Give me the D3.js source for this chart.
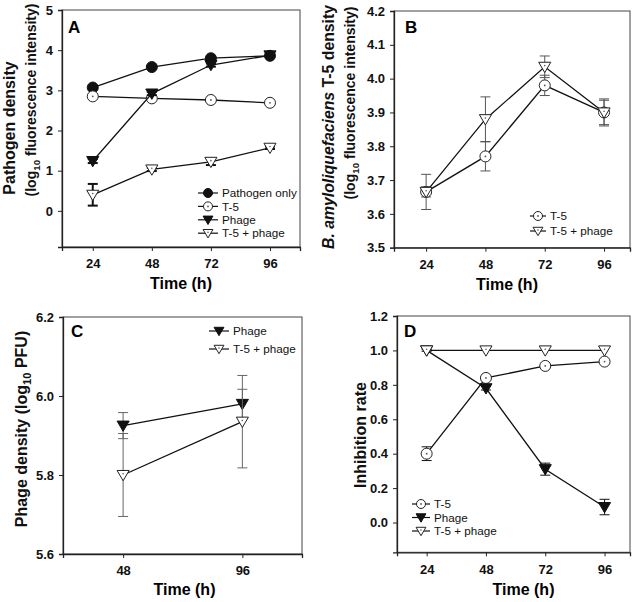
<!DOCTYPE html>
<html><head><meta charset="utf-8">
<script src="https://cdn.jsdelivr.net/npm/d3@7"></script>
<style>body{margin:0;background:#fff}svg{font-family:"Liberation Sans",Arial,sans-serif}</style>
</head><body><div id="c"></div>
<script>
// ---- Data ----
const timesA = [24, 48, 72, 96];
const aPathogen = [3.07, 3.58, 3.80, 3.86];
const aPathogenErr = [0.03, 0.03, 0.03, 0.03];
const aT5 = [2.85, 2.80, 2.76, 2.69];
const aT5Err = [0.02, 0.02, 0.02, 0.02];
const aPhage = [1.24, 2.92, 3.63, 3.87];
const aPhageErr = [0.05, 0.04, 0.04, 0.03];
const aT5Phage = [0.40, 1.03, 1.22, 1.57];
const aT5PhageErr = [0.27, 0.04, 0.08, 0.03];

const timesB = [24, 48, 72, 96];
const bT5 = [3.665, 3.77, 3.98, 3.90];
const bT5Err = [0.015, 0.043, 0.03, 0.04];
const bT5Phage = [3.665, 3.88, 4.035, 3.90];
const bT5PhageErr = [0.052, 0.066, 0.032, 0.036];

const timesC = [48, 96];
const cPhage = [5.925, 5.98];
const cPhageErr = [0.033, 0.037];
const cT5Phage = [5.80, 5.935];
const cT5PhageErr = [0.105, 0.117];

const timesD = [24, 48, 72, 96];
const dT5 = [0.40, 0.84, 0.91, 0.935];
const dT5Err = [0.04, 0.01, 0.01, 0.01];
const dPhage = [1.0, 0.78, 0.31, 0.09];
const dPhageErr = [0.005, 0.01, 0.035, 0.045];
const dT5Phage = [1.0, 1.0, 1.0, 1.0];
const dT5PhageErr = [0, 0, 0, 0];

const ticksA = [0, 1, 2, 3, 4, 5];
const ticksB = [3.5, 3.6, 3.7, 3.8, 3.9, 4.0, 4.1, 4.2];
const ticksC = [5.6, 5.8, 6.0, 6.2];
const ticksD = [0.0, 0.2, 0.4, 0.6, 0.8, 1.0, 1.2];

const svg = d3.select("#c").append("svg").attr("width", 635).attr("height", 602);

function panel(cfg) {
  const x = d3.scaleLinear().domain(cfg.xd).range([cfg.l, cfg.r]);
  const y = d3.scaleLinear().domain(cfg.yd).range([cfg.b, cfg.t]);
  const g = svg.append("g");
  g.append("rect").attr("x", cfg.l).attr("y", cfg.t).attr("width", cfg.r - cfg.l).attr("height", cfg.b - cfg.t)
    .attr("fill", "none").attr("stroke", "#444").attr("stroke-width", 1);
  const ya = g.append("g").attr("transform", `translate(${cfg.l},0)`)
    .call(d3.axisLeft(y).tickValues(cfg.yt).tickFormat(cfg.yf).tickSize(4).tickPadding(5));
  const xa = g.append("g").attr("transform", `translate(0,${cfg.b})`)
    .call(d3.axisBottom(x).tickValues(cfg.xt).tickFormat(d3.format("d")).tickSize(4).tickPadding(8));
  [ya, xa].forEach(a => {
    a.select(".domain").attr("stroke", "#222").attr("stroke-width", 1.3);
    a.selectAll("line").attr("stroke", "#222");
    a.selectAll("text").attr("font-size", 13).attr("font-weight", "bold").attr("fill", "#111")
      .attr("font-family", "Liberation Sans, Arial, sans-serif");
  });
  cfg.series.forEach(s => {
    const pts = cfg.xs.map((t, i) => ({ t, v: s.v[i], e: s.e[i] }));
    const eg = g.append("g").attr("stroke", cfg.errColor).attr("stroke-width", cfg.errW);
    pts.forEach(p => {
      if (!p.e) return;
      const cx = x(p.t), y1 = y(p.v + p.e), y0 = y(p.v - p.e);
      eg.append("line").attr("x1", cx).attr("x2", cx).attr("y1", y1).attr("y2", y0);
      eg.append("line").attr("x1", cx - 5).attr("x2", cx + 5).attr("y1", y1).attr("y2", y1);
      eg.append("line").attr("x1", cx - 5).attr("x2", cx + 5).attr("y1", y0).attr("y2", y0);
    });
    g.append("path").datum(pts).attr("fill", "none").attr("stroke", "#111").attr("stroke-width", 1.3)
      .attr("d", d3.line().x(p => x(p.t)).y(p => y(p.v)));
    pts.forEach(p => marker(g, s.m, x(p.t), y(p.v), 5.5));
  });
  cfg.series.forEach((s, i) => {
    const ly = cfg.leg.y + i * cfg.leg.dy;
    g.append("line").attr("x1", cfg.leg.x).attr("x2", cfg.leg.x + cfg.leg.w).attr("y1", ly).attr("y2", ly)
      .attr("stroke", "#111").attr("stroke-width", 1.2);
    marker(g, s.m, cfg.leg.x + cfg.leg.w / 2, ly, 4.5);
    g.append("text").attr("x", cfg.leg.x + cfg.leg.w + 4).attr("y", ly + 4.2).attr("font-size", 11.7)
      .attr("fill", "#111").text(s.name);
  });
  g.append("text").attr("x", cfg.lx).attr("y", cfg.ly).attr("font-size", 17).attr("font-weight", "bold").text(cfg.letter);
  g.append("text").attr("x", (cfg.l + cfg.r) / 2 + cfg.xtOff).attr("y", cfg.xtY).attr("text-anchor", "middle")
    .attr("font-size", 16).attr("font-weight", "bold").text("Time (h)");
  return { x, y, g };
}

function marker(g, type, cx, cy, r) {
  if (type === "fc") {
    g.append("circle").attr("cx", cx).attr("cy", cy).attr("r", r).attr("fill", "#111").attr("stroke", "#111");
  } else if (type === "oc") {
    g.append("circle").attr("cx", cx).attr("cy", cy).attr("r", r).attr("fill", "#fff").attr("stroke", "#222").attr("stroke-width", 1);
    g.append("circle").attr("cx", cx).attr("cy", cy).attr("r", 0.9).attr("fill", "#555");
  } else {
    const s = r * 1.1;
    const path = `M${cx - s},${cy - s * 0.75}L${cx + s},${cy - s * 0.75}L${cx},${cy + s * 0.95}Z`;
    if (type === "ft") {
      g.append("path").attr("d", path).attr("fill", "#111").attr("stroke", "#111");
    } else {
      g.append("path").attr("d", path).attr("fill", "#fff").attr("stroke", "#222").attr("stroke-width", 1);
      g.append("circle").attr("cx", cx).attr("cy", cy - s * 0.2).attr("r", 0.8).attr("fill", "#555");
    }
  }
}

function ytitle(lines) {
  lines.forEach(o => {
    const fs = o.fs || 16;
    const t = svg.append("text").attr("transform", `translate(${o.x},${o.y}) rotate(-90)`)
      .attr("text-anchor", "middle").attr("font-size", fs).attr("font-weight", "bold").attr("fill", "#111");
    o.parts.forEach(p => {
      const ts = t.append("tspan").text(p.t);
      if (p.i) ts.attr("font-style", "italic");
      if (p.sub) ts.attr("font-size", fs * 0.7).attr("dy", fs * 0.25);
      if (p.after) ts.attr("dy", -fs * 0.25);
    });
  });
}

// Panel A
panel({ l: 62, r: 300, t: 10, b: 247, xd: [11.5, 108.2], yd: [-0.9, 5], xt: timesA, yt: ticksA, yf: d3.format("d"),
  xs: timesA, errColor: "#111", errW: 2, letter: "A", lx: 68, ly: 33, xtOff: 0, xtY: 289,
  series: [
    { name: "Pathogen only", m: "fc", v: aPathogen, e: aPathogenErr },
    { name: "T-5", m: "oc", v: aT5, e: aT5Err },
    { name: "Phage", m: "ft", v: aPhage, e: aPhageErr },
    { name: "T-5 + phage", m: "ot", v: aT5Phage, e: aT5PhageErr }],
  leg: { x: 198, w: 20, y: 193, dy: 13.4 } });
ytitle([
  { x: 15, y: 128, parts: [{ t: "Pathogen density" }] },
  { x: 36, y: 100, fs: 14, parts: [{ t: "(log" }, { t: "10", sub: true }, { t: " fluorescence intensity)", after: true }] }]);

// Panel B
panel({ l: 394, r: 630, t: 11, b: 247.7, xd: [11, 106.5], yd: [3.5, 4.2], xt: timesB, yt: ticksB, yf: d3.format(".1f"),
  xs: timesB, errColor: "#555", errW: 1, letter: "B", lx: 405, ly: 33, xtOff: -5, xtY: 290,
  series: [
    { name: "T-5", m: "oc", v: bT5, e: bT5Err },
    { name: "T-5 + phage", m: "ot", v: bT5Phage, e: bT5PhageErr }],
  leg: { x: 530, w: 16, y: 216, dy: 15 } });
ytitle([
  { x: 334, y: 127, fs: 15.8, parts: [{ t: "B. amyloliquefaciens", i: true }, { t: " T-5 density" }] },
  { x: 355, y: 103, fs: 14, parts: [{ t: "(log" }, { t: "10", sub: true }, { t: " fluorescence intensity)", after: true }] }]);

// Panel C
panel({ l: 63, r: 302, t: 317, b: 554, xd: [23.8, 120], yd: [5.6, 6.2], xt: timesC, yt: ticksC, yf: d3.format(".1f"),
  xs: timesC, errColor: "#666", errW: 1, letter: "C", lx: 71, ly: 337, xtOff: 2, xtY: 595,
  series: [
    { name: "Phage", m: "ft", v: cPhage, e: cPhageErr },
    { name: "T-5 + phage", m: "ot", v: cT5Phage, e: cT5PhageErr }],
  leg: { x: 209, w: 20, y: 331, dy: 18 } });
ytitle([
  { x: 27, y: 429, parts: [{ t: "Phage density (log" }, { t: "10", sub: true }, { t: " PFU)", after: true }] }]);

// Panel D
panel({ l: 397, r: 630, t: 316, b: 552.3, xd: [12, 106.3], yd: [-0.173, 1.2], xt: timesD, yt: ticksD, yf: d3.format(".1f"),
  xs: timesD, errColor: "#111", errW: 1, letter: "D", lx: 404, ly: 337, xtOff: 10, xtY: 595,
  series: [
    { name: "T-5", m: "oc", v: dT5, e: dT5Err },
    { name: "Phage", m: "ft", v: dPhage, e: dPhageErr },
    { name: "T-5 + phage", m: "ot", v: dT5Phage, e: dT5PhageErr }],
  leg: { x: 412, w: 18, y: 504, dy: 13.5 } });
ytitle([
  { x: 366, y: 435, parts: [{ t: "Inhibition rate" }] }]);
</script></body></html>
